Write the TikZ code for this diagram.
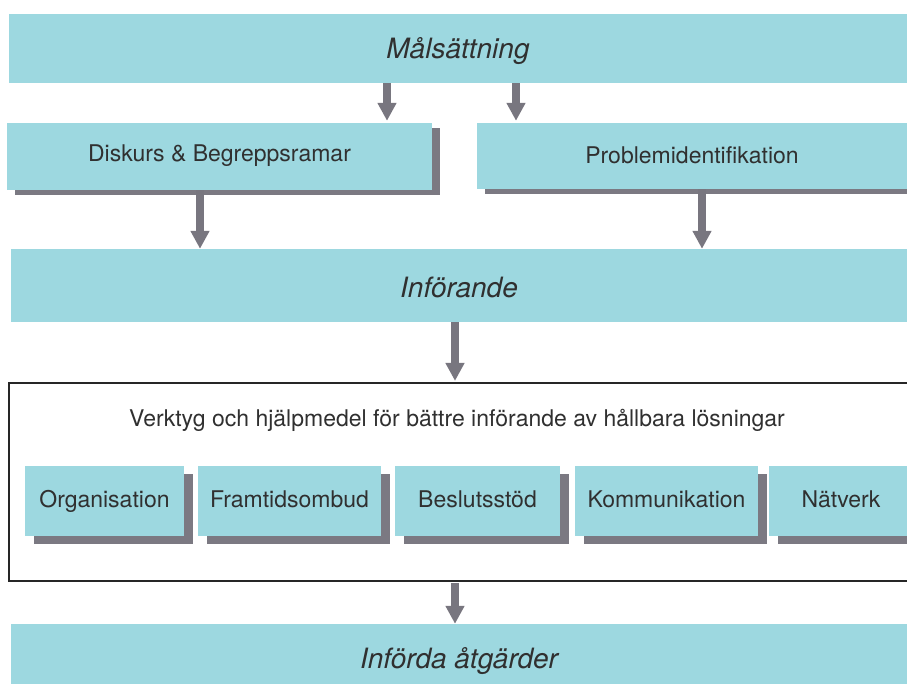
\documentclass[tikz,border=0pt]{standalone}
\usepackage{fontspec}
\setmainfont{TeX Gyre Heros}
\usetikzlibrary{arrows.meta,shadows}
\definecolor{boxc}{HTML}{9DD8E0}
\definecolor{shc}{HTML}{7B7982}
\definecolor{arc}{HTML}{78767F}
\definecolor{txc}{HTML}{303030}
\definecolor{frc}{HTML}{262626}
\newcommand{\shiftdn}[2]{\raisebox{0pt}[\dimexpr\height+#1*2\relax][\depth]{#2}}
\newcommand{\shiftup}[2]{\raisebox{0pt}[\height][\dimexpr\depth+#1*2\relax]{#2}}
\begin{document}
\begin{tikzpicture}[x=1pt,y=-1pt,
  box/.style={fill=boxc, draw=none, inner sep=0pt, text=txc, font=\fontsize{23}{27}\selectfont},
  big/.style={box, font=\fontsize{28}{32}\selectfont\itshape},
  shbox/.style={box, drop shadow={shadow xshift=8pt, shadow yshift=-5pt, fill=shc, opacity=1}},
  tool/.style={box, drop shadow={shadow xshift=9pt, shadow yshift=-8pt, fill=shc, opacity=1}},
  arr/.style={draw=arc, line width=8pt, line cap=butt, -{Triangle[width=18pt,length=18pt]}},
  frame/.style={draw=frc, line width=2.2pt, fill=white, inner sep=0pt}
]
\clip (0,0) rectangle (907,684);
\fill[white] (0,0) rectangle (907,684);

\node[big, minimum width=898pt, minimum height=69pt] (mal) at (458,48.5) {\shiftdn{3pt}{Målsättning}};
\node[shbox, minimum width=425pt, minimum height=67pt] (dis) at (219.5,156.5) {\shiftup{1pt}{Diskurs \& Begreppsramar}};
\node[shbox, minimum width=430pt, minimum height=66pt] (pro) at (692,156) {\shiftup{1pt}{Problemidentifikation}};
\node[big, minimum width=896pt, minimum height=73pt] (inf) at (459,285.5) {\shiftdn{2pt}{Införande}};

\node[frame, minimum width=910pt, minimum height=198pt] (frame) at (464,482) {};
\node[box, fill=none] (head) at (457,420) {Verktyg och hjälpmedel för bättre införande av hållbara lösningar};

\node[tool, minimum width=159pt, minimum height=70pt] (org) at (104.5,501) {Organisation};
\node[tool, minimum width=183pt, minimum height=70pt] (fram) at (289.5,501) {\shiftup{2pt}{Framtidsombud}};
\node[tool, minimum width=165pt, minimum height=70pt] (besl) at (477.5,501) {\shiftup{2pt}{Beslutsstöd}};
\node[tool, minimum width=183pt, minimum height=70pt] (komm) at (666.5,501) {\shiftup{2pt}{Kommunikation}};
\node[tool, minimum width=138pt, minimum height=70pt] (nat) at (838,501) {\hspace{6pt}\shiftup{2pt}{Nätverk}};

\node[big, minimum width=896pt, minimum height=68pt] (last) at (459,658) {\shiftdn{3pt}{Införda åtgärder}};

\draw[arr] ([xshift=-71pt]mal.south) -- ([xshift=167.5pt,yshift=2pt]dis.north);
\draw[arr] ([xshift=58pt]mal.south) -- ([xshift=-176pt,yshift=2pt]pro.north);
\draw[arr] ([xshift=-19.5pt]dis.south) -- ([xshift=-259pt]inf.north);
\draw[arr] ([xshift=10pt]pro.south) -- ([xshift=243pt]inf.north);
\draw[arr] ([xshift=-4pt]inf.south) -- ([xshift=-9pt,yshift=1pt]frame.north);
\draw[arr] ([xshift=-9pt,yshift=-1pt]frame.south) -- ([xshift=-4pt]last.north);
\end{tikzpicture}
\end{document}
